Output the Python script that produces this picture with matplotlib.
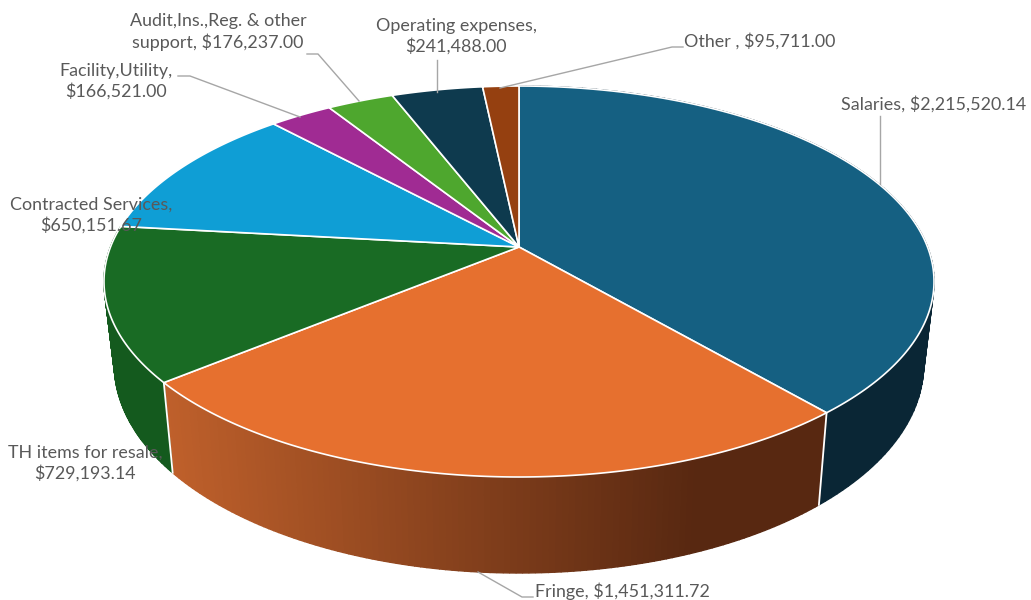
#!/usr/bin/env python3
"""3D perspective pie of expense categories, drawn as polygons."""
import numpy as np
import matplotlib
matplotlib.use("Agg")
import matplotlib.pyplot as plt
from matplotlib.colors import to_rgb

categories = ["Salaries", "Fringe", "TH items for resale", "Contracted Services",
              "Facility,Utility", "Audit,Ins.,Reg. & other support",
              "Operating expenses", "Other"]
values = [2215520.14, 1451311.72, 729193.14, 650151.67,
          166521.00, 176237.00, 241488.00, 95711.00]
top_colors = ["#156082", "#E6702F", "#196B24", "#0F9ED5",
              "#A02B93", "#4EA72E", "#0E3A4E", "#954010"]

# side colours (left end, right end of the gradient on screen)
side_colors = {0: ("#0A2635", "#0A2635"),
               1: ("#BF602B", "#582811"),
               2: ("#145A1E", "#145A1E")}

# label text, centre position
labels = [
    ("Salaries, $2,215,520.14", 934, 104),
    ("Fringe, $1,451,311.72", 622, 591),
    ("TH items for resale,\n$729,193.14", 85, 463),
    ("Contracted Services,\n$650,151.67", 91, 215),
    ("Facility,Utility,\n$166,521.00", 116, 81),
    ("Audit,Ins.,Reg. & other\nsupport, $176,237.00", 218, 32),
    ("Operating expenses,\n$241,488.00", 456, 36),
    ("Other , $95,711.00", 760, 41),
]
# leader lines, in pixels
leaders = [
    ([880, 880], [116, 184]),
    ([478, 522, 533], [572, 597, 597]),
    ([178, 190, 300], [76, 76, 117]),
    ([307, 318, 359], [54, 54, 101]),
    ([437, 437], [60, 92]),
    ([683, 672, 500], [47, 47, 88]),
]

CX, CY = 519.0, 247.0
A, B, K = 408.5, 189.4, 0.1765     # perspective of the top face
SHRINK = 0.975                      # bottom face is slightly narrower


def top_xy(theta):
    """theta clockwise from 12 o'clock, radians."""
    X, Y = np.sin(theta), np.cos(theta)
    w = 1 + K * Y
    return CX + A * X / w, CY - B * Y / w


def bottom_xy(theta):
    x, y = top_xy(theta)
    return CX + SHRINK * (x - CX), y + 80 - 16 * np.cos(theta)


fig = plt.figure(figsize=(10.31, 6.0), dpi=100)
ax = fig.add_axes([0, 0, 1, 1])
ax.set_xlim(0, 1031)
ax.set_ylim(600, 0)
ax.axis("off")

edges = np.concatenate([[0], np.cumsum(values)]) / np.sum(values) * 2 * np.pi

# side wall: only the part facing the viewer
for i in range(len(values)):
    t0, t1 = edges[i], edges[i + 1]
    if i not in side_colors:
        continue
    ts = np.linspace(t0, t1, 121)
    left, right = (np.array(to_rgb(c)) for c in side_colors[i])
    xt, yt = top_xy(ts)
    xb, yb = bottom_xy(ts)
    xmin, xmax = xt.min(), xt.max()
    # strips overlap a little so no hairlines show between them
    for j in range(len(ts) - 1):
        xm = 0.5 * (xt[j] + xt[j + 1])
        f = (xm - xmin) / (xmax - xmin)
        col = left + (right - left) * np.clip(f / 0.8, 0, 1)
        ax.fill([xt[j], xt[j + 1], xb[j + 1], xb[j]],
                [yt[j], yt[j + 1], yb[j + 1], yb[j]],
                facecolor=col, edgecolor=col, lw=1.0, zorder=2)
    # white seam where the wedge ends
    if i < 2:
        xa, ya = top_xy(t1)
        xc, yc = bottom_xy(t1)
        ax.plot([xa, xc], [ya, yc], color="white", lw=1.3, zorder=3)

# top face
for i in range(len(values)):
    ts = np.linspace(edges[i], edges[i + 1], 200)
    x, y = top_xy(ts)
    ax.fill(np.r_[CX, x], np.r_[CY, y], facecolor=top_colors[i],
            edgecolor="white", lw=1.2, joinstyle="round", zorder=4)

for xs, ys in leaders:
    ax.plot(xs, ys, color="#A6A6A6", lw=1.0, zorder=5)

for text, x, y in labels:
    ax.text(x, y, text, ha="center", va="center", fontsize=12.9,
            family="Lato", color="#595959", linespacing=1.27, zorder=6)

fig.savefig("out.png", dpi=100)
